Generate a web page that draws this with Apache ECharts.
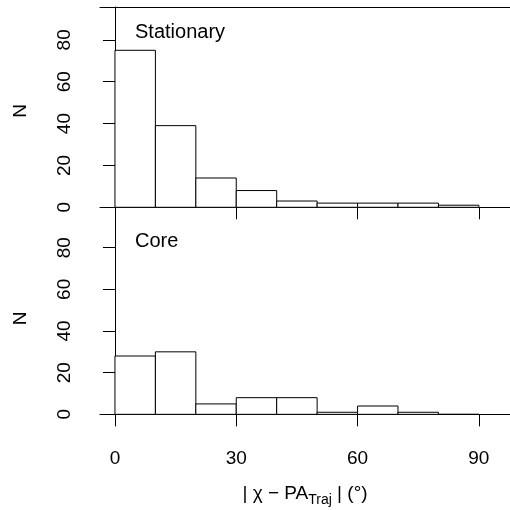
<!DOCTYPE html>
<html>
<head>
<meta charset="utf-8">
<script src="https://cdn.jsdelivr.net/npm/echarts@6/dist/echarts.min.js"></script>
<style>html,body{margin:0;padding:0;background:#fff}#c{width:510px;height:510px}</style>
</head>
<body>
<div id="c"></div>
<script>
// Data
const binStarts = [0, 10, 20, 30, 40, 50, 60, 70, 80];
const binEnds = [10, 20, 30, 40, 50, 60, 70, 80, 90];
const stationary = [75, 39, 14, 8, 3, 2, 2, 2, 1];
const core = [28, 30, 5, 8, 8, 1, 4, 1, 0];
const xTicks = [0, 30, 60, 90];
const yTicks = [0, 20, 40, 60, 80];
const panelLabels = ['Stationary', 'Core'];

const FONT = 'Liberation Sans, Arial, Helvetica, sans-serif';
const X_MIN = -3.7, X_MAX = 97.7, Y_MIN = -3.68, Y_MAX = 95.68;

function mk(vals) { return binStarts.map((s, i) => [s, binEnds[i], vals[i]]); }

function renderHist(params, api) {
  const p0 = api.coord([api.value(0), api.value(2)]);
  const p1 = api.coord([api.value(1), 0]);
  return {
    type: 'rect',
    shape: { x: p0[0], y: p0[1], width: p1[0] - p0[0], height: p1[1] - p0[1] },
    style: { fill: '#fff', stroke: '#000', lineWidth: 1 }
  };
}

const lineStyle = { color: '#000', width: 1 };

function yAxis(gi) {
  return {
    type: 'value', gridIndex: gi, min: Y_MIN, max: Y_MAX,
    splitLine: { show: false },
    axisLine: { show: true, lineStyle },
    axisTick: { show: true, length: 12, lineStyle, customValues: yTicks },
    axisLabel: { show: true, rotate: 90, margin: 26, fontSize: 19, color: '#000', fontFamily: FONT, customValues: yTicks },
    name: 'N', nameLocation: 'middle', nameRotate: 90, nameGap: 70,
    nameTextStyle: { fontSize: 19, color: '#000', fontFamily: FONT }
  };
}

const chart = echarts.init(document.getElementById('c'));
chart.setOption({
  animation: false,
  backgroundColor: '#fff',
  grid: [
    { left: 100, top: 7, right: 0, height: 208 },
    { left: 100, top: 215, right: 0, height: 207 }
  ],
  xAxis: [
    { type: 'value', gridIndex: 0, min: X_MIN, max: X_MAX, position: 'bottom',
      splitLine: { show: false }, axisLine: { show: true, lineStyle },
      axisTick: { show: true, length: 12, lineStyle, customValues: xTicks },
      axisLabel: { show: false } },
    { type: 'value', gridIndex: 0, min: X_MIN, max: X_MAX, position: 'top',
      splitLine: { show: false }, axisLine: { show: true, lineStyle },
      axisTick: { show: false }, axisLabel: { show: false } },
    { type: 'value', gridIndex: 1, min: X_MIN, max: X_MAX, position: 'bottom',
      splitLine: { show: false }, axisLine: { show: true, lineStyle },
      axisTick: { show: true, length: 12, lineStyle, customValues: xTicks },
      axisLabel: { show: true, margin: 27, fontSize: 19, color: '#000', fontFamily: FONT, customValues: xTicks },
      name: '{m|| χ − PA}{s|Traj}{m| | (°)}', nameLocation: 'middle', nameGap: 57,
      nameTextStyle: { fontFamily: FONT, color: '#000',
        rich: {
          m: { fontSize: 19, fontFamily: FONT, color: '#000', lineHeight: 24, verticalAlign: 'bottom' },
          s: { fontSize: 14, fontFamily: FONT, color: '#000', lineHeight: 24, verticalAlign: 'bottom', padding: [0, 0, -4, 0] }
        } } }
  ],
  yAxis: [yAxis(0), yAxis(1)],
  series: [
    { type: 'custom', xAxisIndex: 0, yAxisIndex: 0, data: mk(stationary), renderItem: renderHist, encode: { x: [0, 1], y: 2 } },
    { type: 'custom', xAxisIndex: 2, yAxisIndex: 1, data: mk(core), renderItem: renderHist, encode: { x: [0, 1], y: 2 } }
  ],
  graphic: [
    { type: 'text', left: 135, top: 22, style: { text: panelLabels[0], fontSize: 20, fontFamily: FONT, fill: '#000' } },
    { type: 'text', left: 135, top: 231, style: { text: panelLabels[1], fontSize: 20, fontFamily: FONT, fill: '#000' } }
  ]
});
</script>
</body>
</html>
